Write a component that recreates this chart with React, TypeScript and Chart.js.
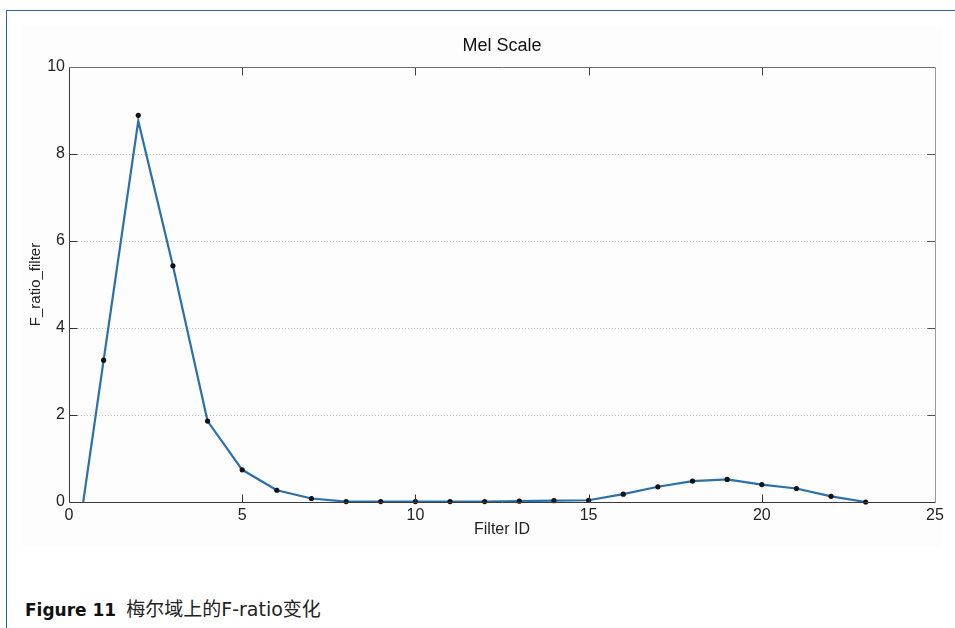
import React, { useEffect, useRef } from "react";
import { Chart, registerables } from "chart.js";

Chart.register(...registerables);

// ---- data ----
const chartTitle = "Mel Scale";
const xAxisLabel = "Filter ID";
const yAxisLabel = "F_ratio_filter";
const captionBold = "Figure 11";
const captionText = "梅尔域上的F-ratio变化";

const filterIds = [1, 2, 3, 4, 5, 6, 7, 8, 9, 10, 11, 12, 13, 14, 15, 16, 17, 18, 19, 20, 21, 22, 23];
const fRatio = [3.26, 8.89, 5.43, 1.86, 0.74, 0.27, 0.08, 0.01, 0.01, 0.01, 0.01, 0.01, 0.02, 0.03, 0.04, 0.18, 0.35, 0.48, 0.52, 0.4, 0.31, 0.13, 0.0];

const curveIds = [0.41, 1, 2, 3, 4, 5, 6, 7, 8, 9, 10, 11, 12, 13, 14, 15, 16, 17, 18, 19, 20, 21, 22, 23];
const curveValues = [0, 3.26, 8.76, 5.43, 1.86, 0.74, 0.27, 0.08, 0.01, 0.01, 0.01, 0.01, 0.01, 0.02, 0.03, 0.04, 0.18, 0.35, 0.48, 0.52, 0.4, 0.31, 0.13, 0.0];

const xTicks = [0, 5, 10, 15, 20, 25];
const yTicks = [0, 2, 4, 6, 8, 10];

const FONT = "'Liberation Sans', Arial, Helvetica, sans-serif";

const framePlugin = {
  id: "matlabFrame",
  afterDatasetsDraw(chart: any) {
    const { ctx, chartArea } = chart;
    const { left, right, top, bottom } = chartArea;
    const xs = chart.scales.x;
    const ys = chart.scales.y;
    const L = Math.round(left) + 0.5;
    const R = Math.round(right) + 0.5;
    const T = Math.round(top) + 0.5;
    const B = Math.round(bottom) + 0.5;
    ctx.save();
    ctx.lineWidth = 1;
    const seg = (x1: number, y1: number, x2: number, y2: number, c: string) => {
      ctx.strokeStyle = c;
      ctx.beginPath();
      ctx.moveTo(x1, y1);
      ctx.lineTo(x2, y2);
      ctx.stroke();
    };
    const tl = 8;
    xTicks.forEach((v) => {
      if (v === xTicks[0] || v === xTicks[xTicks.length - 1]) return;
      const px = Math.round(xs.getPixelForValue(v)) + 0.5;
      seg(px, B, px, B - tl, "#333");
      seg(px, T, px, T + tl, "#444");
    });
    yTicks.forEach((v) => {
      if (v === yTicks[0] || v === yTicks[yTicks.length - 1]) return;
      const py = Math.round(ys.getPixelForValue(v)) + 0.5;
      seg(L, py, L + tl, py, "#333");
      seg(R, py, R - tl, py, "#555");
    });
    seg(L, T, R, T, "#6e6e6e");
    seg(R, T, R, B, "#9a9a9a");
    seg(L, B, R, B, "#3a3a3a");
    seg(L, T, L, B, "#3a3a3a");
    // title
    ctx.fillStyle = "#111";
    ctx.font = `18px ${FONT}`;
    ctx.textAlign = "center";
    ctx.textBaseline = "middle";
    ctx.fillText(chartTitle, (left + right) / 2, 46);
    ctx.restore();
  },
};

export default function App() {
  const ref = useRef<HTMLCanvasElement | null>(null);

  useEffect(() => {
    if (!ref.current) return;
    const chart = new Chart(ref.current, {
      type: "line",
      data: {
        datasets: [
          {
            label: "points",
            data: filterIds.map((x, i) => ({ x, y: fRatio[i] })),
            showLine: false,
            pointRadius: 2.6,
            pointBackgroundColor: "#111",
            pointBorderColor: "#111",
            pointBorderWidth: 0,
            borderColor: "#111",
            order: 0,
            clip: false as any,
          },
          {
            label: "curve",
            data: curveIds.map((x, i) => ({ x, y: curveValues[i] })),
            borderColor: "#2a70ab",
            borderWidth: 2.2,
            pointRadius: 0,
            tension: 0,
            fill: false,
            order: 1,
          },
        ],
      },
      options: {
        responsive: false,
        animation: false,
        devicePixelRatio: 1,
        layout: { padding: { top: 67, right: 20, left: 0, bottom: 0 } },
        plugins: {
          legend: { display: false },
          tooltip: { enabled: false },
          title: { display: false },
        },
        scales: {
          x: {
            type: "linear",
            min: xTicks[0],
            max: xTicks[xTicks.length - 1],
            afterBuildTicks: (s: any) => {
              s.ticks = xTicks.map((v) => ({ value: v }));
            },
            afterFit: (s: any) => {
              s.height = 58;
            },
            grid: { display: false, drawTicks: false },
            border: { display: false },
            ticks: {
              padding: 4,
              color: "#222",
              font: { family: FONT, size: 16 },
              maxRotation: 0,
              autoSkip: false,
            },
            title: {
              display: true,
              text: xAxisLabel,
              color: "#222",
              font: { family: FONT, size: 16 },
              padding: { top: 0, bottom: 21 },
            },
          },
          y: {
            type: "linear",
            min: yTicks[0],
            max: yTicks[yTicks.length - 1],
            afterBuildTicks: (s: any) => {
              s.ticks = yTicks.map((v) => ({ value: v }));
            },
            afterFit: (s: any) => {
              s.width = 69;
            },
            grid: { display: true, drawTicks: false, color: "#c4c4c4", lineWidth: 1 },
            border: { display: false, dash: [1, 2] },
            ticks: {
              padding: 4,
              color: "#222",
              font: { family: FONT, size: 16 },
              autoSkip: false,
            },
            title: {
              display: true,
              text: yAxisLabel,
              color: "#222",
              font: { family: FONT, size: 15 },
              padding: { top: 27, bottom: 0 },
            },
          },
        },
      },
      plugins: [framePlugin],
    });
    return () => chart.destroy();
  }, []);

  return (
    <div style={{ position: "absolute", left: 0, top: 0, width: 955, height: 628, background: "#fff", overflow: "hidden" }}>
      <div style={{ position: "absolute", left: 6, top: 10, width: 949, height: 1, background: "#2c5ea6" }} />
      <div style={{ position: "absolute", left: 6, top: 10, width: 1, height: 618, background: "#2c5ea6" }} />
      <div style={{ position: "absolute", left: 22, top: 25, width: 920, height: 522, background: "#fdfdfd" }} />
      <canvas ref={ref} width={955} height={560} style={{ position: "absolute", left: 0, top: 0, width: 955, height: 560 }} />
      <div
        style={{
          position: "absolute",
          left: 25,
          top: 597,
          fontSize: 17,
          lineHeight: "24px",
          color: "#111",
          whiteSpace: "nowrap",
          fontFamily: "'DejaVu Sans', 'Noto Sans CJK SC', sans-serif",
        }}
      >
        <span style={{ fontWeight: "bold" }}>{captionBold}</span>
        <span style={{ marginLeft: 10, fontFamily: "'DejaVu Sans', 'Noto Sans CJK SC', sans-serif", fontSize: 19, color: "#222" }}>{captionText}</span>
      </div>
    </div>
  );
}
